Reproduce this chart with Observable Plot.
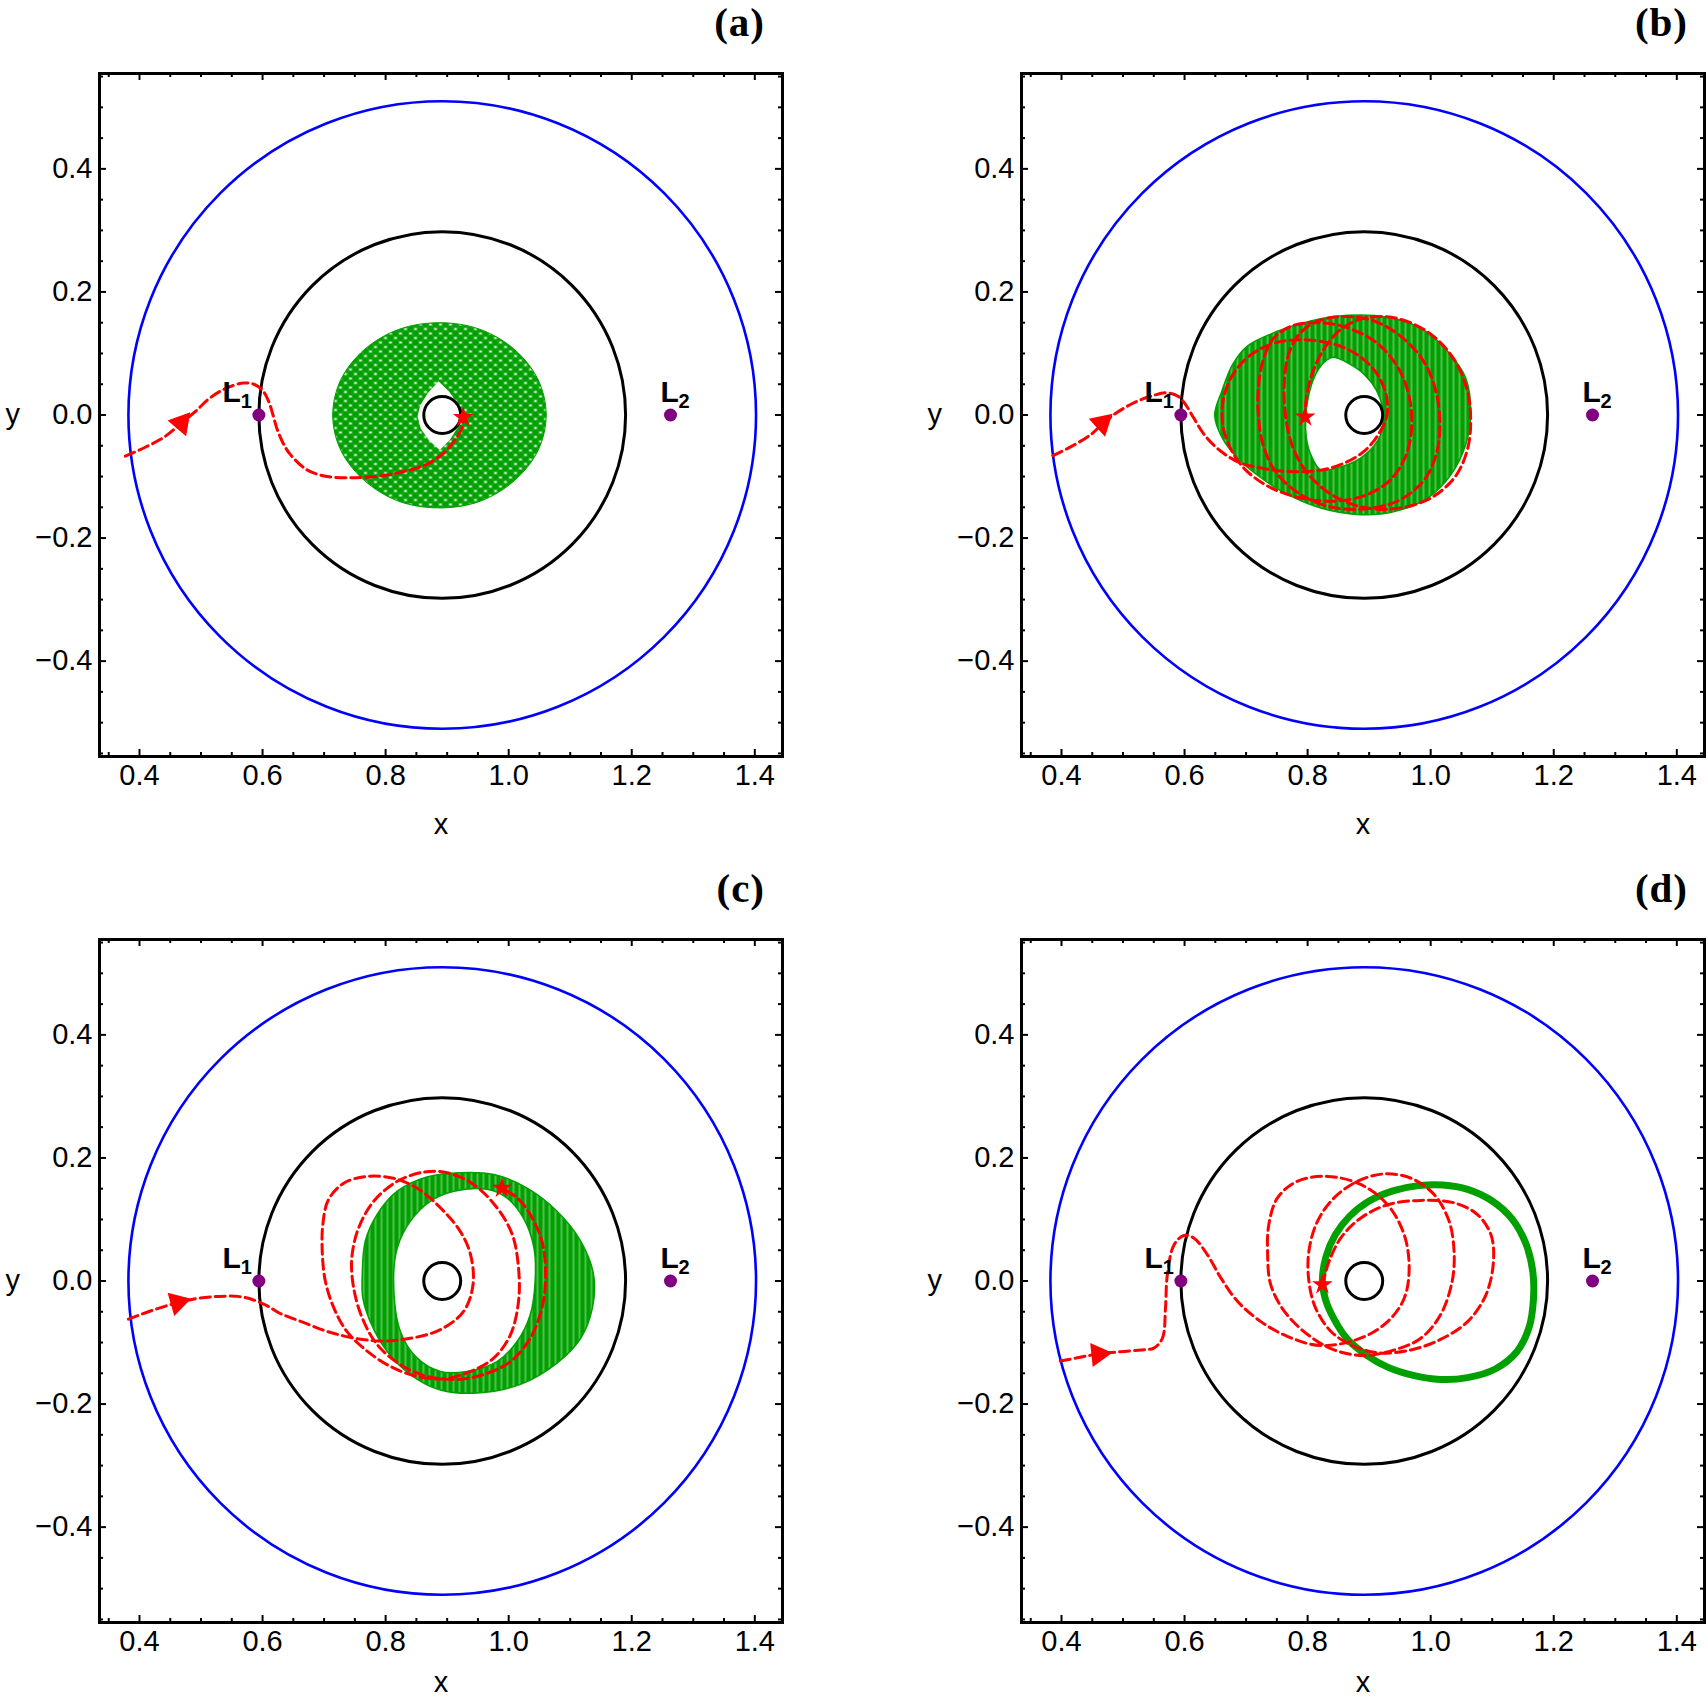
<!DOCTYPE html>
<html><head><meta charset="utf-8">
<script src="https://cdn.jsdelivr.net/npm/d3@7"></script>
<script src="https://cdn.jsdelivr.net/npm/@observablehq/plot@0.6"></script>
<style>
body{margin:0;background:#fff;}
#fig{position:relative;width:1708px;height:1700px;background:#fff;overflow:hidden;}
.panel{position:absolute;}
.tag{position:absolute;font-family:"Liberation Serif","DejaVu Serif",serif;font-weight:bold;font-size:41px;line-height:1;letter-spacing:1px;}
</style></head><body><div id="fig"></div>
<script>
// ---------- axes / ticks ----------
const xMajor = [0.4, 0.6, 0.8, 1.0, 1.2, 1.4];
const xMinor = [0.35, 0.45, 0.5, 0.55, 0.65, 0.7, 0.75, 0.85, 0.9, 0.95, 1.05, 1.1, 1.15, 1.25, 1.3, 1.35];
const yMajor = [-0.4, -0.2, 0.0, 0.2, 0.4];
const yMinor = [-0.55, -0.5, -0.45, -0.35, -0.3, -0.25, -0.15, -0.1, -0.05, 0.05, 0.1, 0.15, 0.25, 0.3, 0.35, 0.45, 0.5, 0.55];
const xDomain = [0.335, 1.445];
const yDomain = [-0.555, 0.555];
const panelTags = ["(a)", "(b)", "(c)", "(d)"];

// ---------- geometry ----------
const circleCenter = [0.892, 0.0];
const circleRadius = [0.51, 0.298, 0.030];     // blue boundary, black ring, central body
const lagrangePoints = [[0.594, 0.0], [1.263, 0.0]];

// ---------- panel (a) ----------
const redA = [[0.377,-0.067],[0.41,-0.052],[0.44,-0.036],[0.465,-0.016],[0.49,0.005],[0.515,0.028],[0.542,0.044],[0.569,0.052],[0.586,0.05],[0.6,0.04],[0.61,0.022],[0.617,0.0],[0.623,-0.021],[0.633,-0.045],[0.645,-0.064],[0.672,-0.089],[0.705,-0.1],[0.743,-0.102],[0.77,-0.101],[0.8,-0.098],[0.824,-0.093],[0.848,-0.087],[0.867,-0.08],[0.894,-0.062],[0.913,-0.04],[0.924,-0.021],[0.926,-0.005]];
const arrowA = [[0.468,-0.013,40]];
const starA = [[0.926,-0.004]];
const greenOuterA = [[1.061,0.0],[1.048,0.057],[1.010,0.106],[0.954,0.139],[0.888,0.150],[0.821,0.139],[0.765,0.106],[0.727,0.057],[0.714,0.0],[0.727,-0.057],[0.765,-0.106],[0.821,-0.140],[0.888,-0.151],[0.954,-0.140],[1.010,-0.106],[1.048,-0.057]];
const greenHoleA = [[0.886,0.055],[0.868,0.035],[0.856,0.015],[0.852,-0.002],[0.857,-0.022],[0.871,-0.042],[0.888,-0.057],[0.905,-0.04],[0.917,-0.02],[0.921,0.0],[0.916,0.02],[0.903,0.038]];

// ---------- panel (b) ----------
const redB = [[0.386,-0.066],[0.42,-0.049],[0.45,-0.03],[0.466,-0.015],[0.49,0.004],[0.52,0.021],[0.55,0.032],[0.572,0.036],[0.59,0.03],[0.603,0.015],[0.615,-0.005],[0.632,-0.032],[0.659,-0.059],[0.691,-0.078],[0.724,-0.086],
[0.77,-0.092],[0.82,-0.09],[0.86,-0.078],[0.893,-0.058],[0.916,-0.03],[0.929,0.0],[0.927,0.035],[0.912,0.068],[0.885,0.095],[0.85,0.113],[0.8,0.122],[0.75,0.118],[0.708,0.098],[0.678,0.065],[0.663,0.025],[0.662,-0.015],[0.675,-0.055],[0.7,-0.09],[0.74,-0.118],[0.79,-0.135],[0.845,-0.14],
[0.895,-0.13],[0.935,-0.105],[0.96,-0.065],[0.969,-0.02],[0.965,0.03],[0.948,0.075],[0.915,0.115],[0.87,0.14],[0.82,0.15],[0.775,0.145],[0.745,0.125],[0.728,0.09],[0.72,0.045],[0.72,0.0],[0.728,-0.05],[0.75,-0.095],[0.79,-0.13],[0.84,-0.15],[0.9,-0.152],
[0.95,-0.138],[0.99,-0.105],[1.01,-0.06],[1.015,-0.01],[1.008,0.04],[0.99,0.085],[0.955,0.125],[0.91,0.152],[0.86,0.16],[0.815,0.152],[0.785,0.13],[0.768,0.095],[0.762,0.05],[0.764,0.0],[0.775,-0.05],[0.8,-0.095],[0.84,-0.13],[0.89,-0.15],[0.945,-0.152],
[1.0,-0.135],[1.04,-0.1],[1.06,-0.055],[1.065,-0.005],[1.058,0.045],[1.035,0.095],[0.995,0.135],[0.945,0.157],[0.895,0.158],[0.855,0.14],[0.825,0.105],[0.805,0.06],[0.797,0.02],[0.796,-0.003]];
const arrowB = [[0.466,-0.013,48]];
const starB = [[0.796,-0.003]];
const greenOuterB = [[0.649,0.0],[0.661,0.04],[0.678,0.082],[0.702,0.112],[0.751,0.136],[0.805,0.153],[0.865,0.162],[0.93,0.159],[0.984,0.141],[1.027,0.104],[1.057,0.06],[1.065,0.0],[1.057,-0.048],[1.033,-0.097],[0.995,-0.135],[0.941,-0.157],[0.886,-0.162],[0.821,-0.151],[0.767,-0.129],[0.724,-0.102],[0.686,-0.07],[0.661,-0.037]];
const greenHoleB = [[0.797,-0.003],[0.805,0.045],[0.818,0.075],[0.832,0.09],[0.843,0.094],[0.868,0.083],[0.892,0.066],[0.912,0.04],[0.922,0.01],[0.922,-0.02],[0.913,-0.043],[0.886,-0.07],[0.848,-0.086],[0.821,-0.089],[0.805,-0.064],[0.798,-0.037]];

// ---------- panel (c) ----------
const redC = [[0.382,-0.062],[0.42,-0.048],[0.459,-0.036],[0.495,-0.028],[0.53,-0.025],[0.56,-0.025],[0.583,-0.03],[0.607,-0.04],[0.627,-0.052],[0.663,-0.066],[0.715,-0.085],[0.781,-0.097],[0.835,-0.094],[0.889,-0.079],[0.927,-0.049],[0.942,-0.006],[0.938,0.043],[0.921,0.081],[0.889,0.119],[0.851,0.151],[0.813,0.167],[0.77,0.17],[0.732,0.159],[0.707,0.132],[0.698,0.092],[0.697,0.048],[0.702,0.0],[0.716,-0.044],[0.737,-0.082],[0.77,-0.114],[0.808,-0.139],[0.851,-0.155],[0.894,-0.159],[0.938,-0.147],[0.976,-0.125],[1.003,-0.087],[1.016,-0.033],[1.016,0.021],[1.006,0.075],[0.981,0.119],[0.943,0.157],[0.9,0.176],[0.862,0.177],[0.819,0.162],[0.781,0.13],[0.756,0.086],[0.745,0.037],[0.748,-0.011],[0.762,-0.06],[0.786,-0.103],[0.824,-0.136],[0.867,-0.155],[0.916,-0.16],[0.959,-0.152],[1.003,-0.131],[1.035,-0.093],[1.054,-0.044],[1.06,0.01],[1.054,0.065],[1.035,0.108],[1.014,0.135],[0.989,0.151]];
const arrowC = [[0.462,-0.035,74]];
const starC = [[0.989,0.151]];
const greenOuterC = [[0.762,0.010],[0.767,0.065],[0.786,0.108],[0.819,0.146],[0.867,0.169],[0.921,0.176],[0.976,0.173],[1.03,0.151],[1.079,0.113],[1.117,0.065],[1.138,0.010],[1.136,-0.044],[1.117,-0.093],[1.079,-0.133],[1.019,-0.168],[0.949,-0.182],[0.889,-0.177],[0.84,-0.152],[0.802,-0.114],[0.775,-0.066],[0.763,-0.028]];
const greenHoleC = [[0.813,0.0],[0.819,0.054],[0.84,0.097],[0.873,0.13],[0.911,0.146],[0.965,0.149],[0.997,0.135],[1.024,0.102],[1.041,0.054],[1.043,0.0],[1.035,-0.055],[1.014,-0.098],[0.981,-0.131],[0.932,-0.147],[0.889,-0.147],[0.851,-0.125],[0.824,-0.082]];

// ---------- panel (d) ----------
const redD = [[0.398,-0.13],[0.43,-0.124],[0.457,-0.119],[0.496,-0.115],[0.53,-0.112],[0.55,-0.109],[0.564,-0.093],[0.569,-0.044],[0.572,0.010],[0.583,0.059],[0.599,0.074],[0.615,0.07],[0.637,0.043],[0.659,0.005],[0.686,-0.033],[0.724,-0.066],[0.767,-0.09],[0.821,-0.105],[0.886,-0.093],[0.93,-0.066],[0.957,-0.028],[0.965,0.021],[0.957,0.075],[0.93,0.124],[0.886,0.157],[0.832,0.17],[0.783,0.162],[0.751,0.135],[0.737,0.092],[0.735,0.043],[0.74,-0.006],[0.762,-0.049],[0.8,-0.087],[0.843,-0.112],[0.892,-0.121],[0.941,-0.112],[0.984,-0.093],[1.016,-0.055],[1.035,0.0],[1.038,0.048],[1.03,0.097],[1.006,0.14],[0.968,0.167],[0.924,0.174],[0.881,0.162],[0.843,0.135],[0.816,0.097],[0.802,0.048],[0.802,0.0],[0.813,-0.044],[0.838,-0.082],[0.875,-0.106],[0.919,-0.117],[0.968,-0.112],[1.016,-0.095],[1.06,-0.066],[1.09,-0.022],[1.102,0.032],[1.098,0.075],[1.076,0.108],[1.038,0.127],[0.984,0.131],[0.93,0.124],[0.886,0.102],[0.854,0.07],[0.835,0.032],[0.824,-0.006]];
const arrowD = [[0.46,-0.119,84]];
const starD = [[0.824,-0.006]];
const greenLoopD = [[0.824,0.0],[0.83,0.04],[0.845,0.075],[0.868,0.105],[0.9,0.13],[0.94,0.147],[0.98,0.155],[1.02,0.156],[1.06,0.149],[1.1,0.13],[1.133,0.1],[1.155,0.06],[1.166,0.015],[1.167,-0.03],[1.16,-0.075],[1.14,-0.115],[1.105,-0.143],[1.06,-0.157],[1.016,-0.16],[0.97,-0.153],[0.93,-0.14],[0.895,-0.12],[0.865,-0.095],[0.843,-0.062],[0.829,-0.03]];

// ---------- drawing ----------
const PX = 683 / (xDomain[1] - xDomain[0]);   // pixels per unit (equal aspect)
const GREEN = "#00a000", RED = "#ff0000", PURPLE = "#800080";
const XY = {x: d => d[0], y: d => d[1]};
const fmt = d3.format(".1f");

function tickMarks() {
  const [x0, x1] = xDomain, [y0, y1] = yDomain;
  const big = 7 / PX, small = 4 / PX;
  const sw = 2;
  return [
    Plot.ruleX(xMajor, {x: d => d, y1: y0, y2: y0 + big, strokeWidth: sw}),
    Plot.ruleX(xMajor, {x: d => d, y1: y1, y2: y1 - big, strokeWidth: sw}),
    Plot.ruleX(xMinor, {x: d => d, y1: y0, y2: y0 + small, strokeWidth: sw}),
    Plot.ruleX(xMinor, {x: d => d, y1: y1, y2: y1 - small, strokeWidth: sw}),
    Plot.ruleY(yMajor, {y: d => d, x1: x0, x2: x0 + big, strokeWidth: sw}),
    Plot.ruleY(yMajor, {y: d => d, x1: x1, x2: x1 - big, strokeWidth: sw}),
    Plot.ruleY(yMinor, {y: d => d, x1: x0, x2: x0 + small, strokeWidth: sw}),
    Plot.ruleY(yMinor, {y: d => d, x1: x1, x2: x1 - small, strokeWidth: sw})
  ];
}

function circleMarks() {
  const c = {x: circleCenter[0], y: circleCenter[1]};
  return [
    Plot.dot([{...c, r: circleRadius[0]}], {x: "x", y: "y", r: "r", stroke: "#0000ff", strokeWidth: 2.6, fill: "none"}),
    Plot.dot([{...c, r: circleRadius[1]}], {x: "x", y: "y", r: "r", stroke: "#000", strokeWidth: 3, fill: "none"})
  ];
}
function bodyMark() {
  return Plot.dot([{x: circleCenter[0], y: circleCenter[1], r: circleRadius[2]}], {x: "x", y: "y", r: "r", stroke: "#000", strokeWidth: 3, fill: "none"});
}

function lagrangeMarks() {
  const L1 = [lagrangePoints[0]], L2 = [lagrangePoints[1]];
  const f = {fontFamily: "'Liberation Sans', Arial, sans-serif", fontWeight: "bold", fill: "#000"};
  return [
    Plot.dot(lagrangePoints, {...XY, r: 6.5, fill: PURPLE, stroke: "none"}),
    Plot.text(L1, {...XY, ...f, text: () => "L", fontSize: 30, textAnchor: "end", dx: -18, dy: -23}),
    Plot.text(L1, {...XY, ...f, text: () => "1", fontSize: 20, textAnchor: "end", dx: -7, dy: -13}),
    Plot.text(L2, {...XY, ...f, text: () => "L", fontSize: 30, textAnchor: "start", dx: -10, dy: -23}),
    Plot.text(L2, {...XY, ...f, text: () => "2", fontSize: 20, textAnchor: "start", dx: 8, dy: -13})
  ];
}

function trajectoryMarks(red, arrow, star) {
  return [
    Plot.line(red, {...XY, stroke: RED, strokeWidth: 3, strokeDasharray: "10,5", curve: "catmull-rom"}),
    Plot.dot(arrow, {...XY, symbol: "triangle", r: 9, fill: RED, stroke: "none", rotate: d => d[2]}),
    Plot.dot(star, {...XY, symbol: "star", r: 6.5, fill: RED, stroke: "none"})
  ];
}

function makePanel(width, greenMarks, red, arrow, star, xLabelDy) {
  const svg = Plot.plot({
    width, height: 834,
    marginLeft: 99, marginTop: 73, marginRight: width - 99 - 683, marginBottom: 78,
    x: {domain: xDomain},
    y: {domain: yDomain},
    r: {type: "linear", domain: [0, 1], range: [0, PX]},
    style: {fontFamily: "'Liberation Sans', Arial, sans-serif", fontSize: "29px", background: "white", overflow: "visible"},
    marks: [
      ...circleMarks(),
      ...greenMarks,
      bodyMark(),
      ...trajectoryMarks(red, arrow, star),
      ...lagrangeMarks(),
      Plot.frame({strokeWidth: 3}),
      ...tickMarks(),
      Plot.axisX({ticks: xMajor, tickSize: 0, tickPadding: 8, tickFormat: fmt, label: null, fontSize: 29}),
      Plot.axisY({ticks: yMajor, tickSize: 0, tickPadding: 7, tickFormat: fmt, label: null, fontSize: 29}),
      Plot.text(["x"], {frameAnchor: "bottom", dy: xLabelDy, text: d => d, fontSize: 29}),
      Plot.text(["y"], {frameAnchor: "left", dx: -94, text: d => d, fontSize: 29})
    ]
  });
  // texture patterns for the dense green orbit bundles
  const defs = document.createElementNS("http://www.w3.org/2000/svg", "defs");
  defs.innerHTML = `
    <pattern id="lattice" patternUnits="userSpaceOnUse" width="10" height="9">
      <rect width="10" height="9" fill="${GREEN}"/>
      <ellipse cx="0" cy="0" rx="1.6" ry="1" fill="#fff"/>
      <ellipse cx="10" cy="0" rx="1.6" ry="1" fill="#fff"/>
      <ellipse cx="0" cy="9" rx="1.6" ry="1" fill="#fff"/>
      <ellipse cx="10" cy="9" rx="1.6" ry="1" fill="#fff"/>
      <ellipse cx="5" cy="4.5" rx="1.6" ry="1" fill="#fff"/>
      <path d="M0,0L10,9M10,0L0,9" stroke="#fff" stroke-opacity="0.25" stroke-width="0.6"/>
    </pattern>
    <pattern id="strands" patternUnits="userSpaceOnUse" width="6" height="6" patternTransform="rotate(90)">
      <rect width="6" height="6" fill="${GREEN}"/>
      <path d="M0,3H6" stroke="#fff" stroke-width="0.9" stroke-opacity="0.7"/>
    </pattern>`;
  svg.insertBefore(defs, svg.firstChild);
  return svg;
}

const greenA = [
  Plot.line(greenOuterA, {...XY, fill: "url(#lattice)", stroke: GREEN, strokeWidth: 1, curve: "catmull-rom-closed"}),
  Plot.line(greenHoleA, {...XY, fill: "white", stroke: "none", curve: "linear-closed"})
];
const greenB = [
  Plot.line(greenOuterB, {...XY, fill: "url(#strands)", stroke: GREEN, strokeWidth: 1.5, curve: "catmull-rom-closed"}),
  Plot.line(greenHoleB, {...XY, fill: "white", stroke: GREEN, strokeWidth: 1.5, curve: "catmull-rom-closed"})
];
const greenC = [
  Plot.line(greenOuterC, {...XY, fill: "url(#strands)", stroke: GREEN, strokeWidth: 1.5, curve: "catmull-rom-closed"}),
  Plot.line(greenHoleC, {...XY, fill: "white", stroke: GREEN, strokeWidth: 1.5, curve: "catmull-rom-closed"})
];
const greenD = [
  Plot.line(greenLoopD, {...XY, fill: "none", stroke: GREEN, strokeWidth: 7, curve: "catmull-rom-closed"})
];

const fig = document.getElementById("fig");
const layout = [
  {left: 0, top: 0, width: 854, green: greenA, red: redA, arrow: arrowA, star: starA, tagRight: 765, xdy: 77},
  {left: 921.6, top: 0, width: 786, green: greenB, red: redB, arrow: arrowB, star: starB, tagRight: 1688, xdy: 77},
  {left: 0, top: 866, width: 854, green: greenC, red: redC, arrow: arrowC, star: starC, tagRight: 765, xdy: 69},
  {left: 921.6, top: 866, width: 786, green: greenD, red: redD, arrow: arrowD, star: starD, tagRight: 1688, xdy: 69}
];
layout.forEach((p, i) => {
  const div = document.createElement("div");
  div.className = "panel";
  div.style.left = p.left + "px";
  div.style.top = p.top + "px";
  div.appendChild(makePanel(p.width, p.green, p.red, p.arrow, p.star, p.xdy));
  fig.appendChild(div);
  const tag = document.createElement("div");
  tag.className = "tag";
  tag.textContent = panelTags[i];
  tag.style.right = (1708 - p.tagRight) + "px";
  tag.style.top = (p.top + 2) + "px";
  fig.appendChild(tag);
});
</script></body></html>
